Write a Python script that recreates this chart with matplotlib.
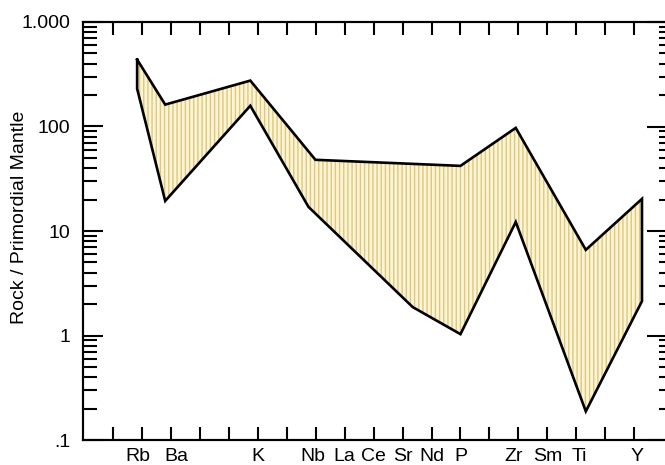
import matplotlib
matplotlib.use("Agg")
import matplotlib.pyplot as plt
from matplotlib.ticker import FixedLocator, LogLocator, NullFormatter

plt.rcParams['font.family'] = ['Liberation Sans', 'DejaVu Sans']
plt.rcParams['hatch.linewidth'] = 1.0

# element labels and where they sit along the x axis (tick units)
elements = ["Rb", "Ba", "K", "Nb", "La", "Ce", "Sr", "Nd", "P", "Zr", "Sm", "Ti", "Y"]
label_pos = [0.85, 2.2, 5, 6.9, 8, 9, 10, 11, 12, 13.85, 15, 16.1, 18.1]

# upper and lower envelope of the field (Rock / Primordial Mantle)
upper_x = [0.83, 1.80, 4.74, 6.99, 12.0, 13.91, 16.33, 18.27]
upper_y = [437, 162, 275, 48, 42, 97, 6.6, 20.3]
lower_x = [0.83, 1.80, 4.74, 6.75, 10.35, 12.0, 13.91, 16.33, 18.27]
lower_y = [230, 19.4, 158, 17, 1.87, 1.03, 12.2, 0.188, 2.13]

ytick_vals = [0.1, 1, 10, 100, 1000]
ytick_labels = [".1", "1", "10", "100", "1.000"]

fig = plt.figure(figsize=(6.65, 4.65), dpi=100)
ax = fig.add_axes([83 / 665, 25 / 465, 583 / 665, 418 / 465])

poly_x = upper_x + lower_x[::-1]
poly_y = upper_y + lower_y[::-1]
ax.fill(poly_x, poly_y, facecolor="#f8f6da", edgecolor="none", zorder=1)
ax.fill(poly_x, poly_y, facecolor="none", edgecolor="#e6c676", hatch="||||",
        linewidth=0, zorder=2)
ax.plot(poly_x + poly_x[:1], poly_y + poly_y[:1], color="black", lw=1.9,
        solid_joinstyle="miter", zorder=3)

ax.set_yscale("log")
ax.set_ylim(0.1, 1000)
ax.set_xlim(-1.04, 19.1)

ax.yaxis.set_major_locator(FixedLocator(ytick_vals))
ax.set_yticklabels(ytick_labels, fontsize=14)
ax.yaxis.set_minor_locator(LogLocator(base=10, subs=range(2, 10)))
ax.yaxis.set_minor_formatter(NullFormatter())

ax.set_xticks(range(0, 19))
ax.set_xticklabels([])
for name, xp in zip(elements, label_pos):
    ax.text(xp, -0.02, name, transform=ax.get_xaxis_transform(), ha="center",
            va="top", fontsize=14, clip_on=False)

ax.tick_params(axis="y", which="major", direction="in", length=14.5, width=1.5,
               left=True, right=False, pad=9)
ax.tick_params(axis="y", which="minor", direction="in", length=10, width=1.5,
               left=True, right=False)
ax.tick_params(axis="x", which="major", direction="in", length=9.5, width=1.5,
               top=True, bottom=True)

for s in ax.spines.values():
    s.set_linewidth(1.5)

# right-hand axis carries its own (shorter) minor ticks
ax2 = ax.twinx()
ax2.set_yscale("log")
ax2.set_ylim(0.1, 1000)
ax2.yaxis.set_major_locator(FixedLocator(ytick_vals))
ax2.yaxis.set_minor_locator(LogLocator(base=10, subs=range(2, 10)))
ax2.yaxis.set_major_formatter(NullFormatter())
ax2.yaxis.set_minor_formatter(NullFormatter())
ax2.tick_params(axis="y", which="major", direction="in", length=14, width=1.5)
ax2.tick_params(axis="y", which="minor", direction="in", length=5, width=1.5)
for s in ax2.spines.values():
    s.set_linewidth(1.5)

ax.set_ylabel("Rock / Primordial Mantle", fontsize=14)
ax.yaxis.set_label_coords(-0.095, 0.533)

fig.savefig("out.png", dpi=100)
